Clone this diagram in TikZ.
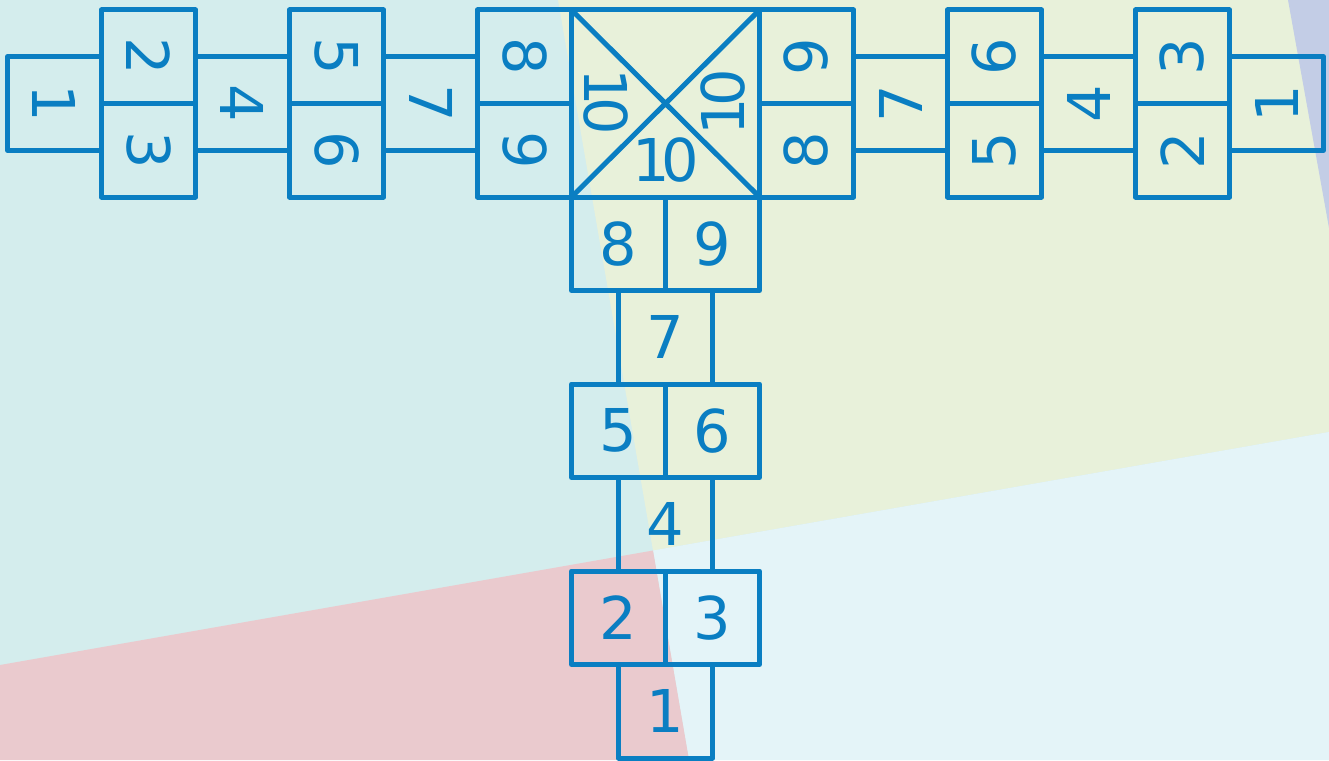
\documentclass[tikz,border=0pt]{standalone}
\usepackage{fontspec}
\setmainfont{DejaVu Sans}
\definecolor{hop}{RGB}{10,126,194}
\definecolor{bgteal}{RGB}{212,237,237}
\definecolor{bggreen}{RGB}{232,241,218}
\definecolor{bgpink}{RGB}{234,202,206}
\definecolor{bgblue}{RGB}{228,244,248}
\definecolor{bglav}{RGB}{195,205,230}
\begin{document}
\begin{tikzpicture}[x=1pt,y=-1pt,
  cell/.style={draw=hop,line width=5pt,line join=round},
  num/.style={font=\fontsize{59}{59}\selectfont,text=hop,inner sep=0pt}]
\useasboundingbox (0,0) rectangle (1329,760);
% background
\fill[bgteal] (0,0) rectangle (1329,760);
\fill[bggreen] (558,0) -- (1329,0) -- (1329,432) -- (653,550.5) -- cycle;
\fill[bgblue] (653,550.5) -- (1329,432) -- (1329,760) -- (689,760) -- cycle;
\fill[bgpink] (0,665) -- (653,550.5) -- (689,760) -- (0,760) -- cycle;
\fill[bglav] (1288,0) -- (1329,0) -- (1329,228) -- cycle;
% vertical arm
\draw[cell] (571.5,10) rectangle (759.5,197);
\draw[cell] (571.5,10) -- (759.5,197) (759.5,10) -- (571.5,197);
\draw[cell] (571.5,197) rectangle (665.5,290.5) (665.5,197) rectangle (759.5,290.5);
\draw[cell] (618.5,290.5) rectangle (712.5,384);
\draw[cell] (571.5,384) rectangle (665.5,477.5) (665.5,384) rectangle (759.5,477.5);
\draw[cell] (618.5,477.5) rectangle (712.5,571);
\draw[cell] (571.5,571) rectangle (665.5,664.5) (665.5,571) rectangle (759.5,664.5);
\draw[cell] (618.5,664.5) rectangle (712.5,758);
% left arm
\foreach \x in {477.5,289.5,101.5}{
  \draw[cell] (\x,10) rectangle (\x+94,103.5) (\x,103.5) rectangle (\x+94,197);}
\foreach \x in {383.5,195.5,7.5}{
  \draw[cell] (\x,56.75) rectangle (\x+94,150.25);}
% right arm
\foreach \x in {759.5,947.5,1135.5}{
  \draw[cell] (\x,10) rectangle (\x+94,103.5) (\x,103.5) rectangle (\x+94,197);}
\foreach \x in {853.5,1041.5,1229.5}{
  \draw[cell] (\x,56.75) rectangle (\x+94,150.25);}
% numbers, vertical arm
\node[num] (v8) at (618.5,243.75) {8};
\node[num] (v9) at (712.5,243.75) {9};
\node[num] (v7) at (665.5,337.25) {7};
\node[num] (v5) at (618.5,430.75) {5};
\node[num] (v6) at (712.5,430.75) {6};
\node[num] (v4) at (665.5,524.25) {4};
\node[num] (v2) at (618.5,617.75) {2};
\node[num] (v3) at (712.5,617.75) {3};
\node[num] (v1) at (665.5,711.25) {1};
% center tens
\node[num,rotate=-90] (tl) at (606,102) {1\kern-9pt0};
\node[num,rotate=90] (tr) at (723,102) {1\kern-9pt0};
\node[num] (tb) at (665.5,160) {1\kern-9pt0};
% left arm numbers
\node[num,rotate=-90] (l8) at (524.5,56.75) {8};
\node[num,rotate=-90] (l9) at (524.5,150.25) {9};
\node[num,rotate=-90] (l7) at (430.5,103.5) {7};
\node[num,rotate=-90] (l5) at (336.5,56.75) {5};
\node[num,rotate=-90] (l6) at (336.5,150.25) {6};
\node[num,rotate=-90] (l4) at (242.5,103.5) {4};
\node[num,rotate=-90] (l2) at (148.5,56.75) {2};
\node[num,rotate=-90] (l3) at (148.5,150.25) {3};
\node[num,rotate=-90] (l1) at (54.5,103.5) {1};
% right arm numbers
\node[num,rotate=90] (r9) at (806.5,56.75) {9};
\node[num,rotate=90] (r8) at (806.5,150.25) {8};
\node[num,rotate=90] (r7) at (900.5,103.5) {7};
\node[num,rotate=90] (r6) at (994.5,56.75) {6};
\node[num,rotate=90] (r5) at (994.5,150.25) {5};
\node[num,rotate=90] (r4) at (1088.5,103.5) {4};
\node[num,rotate=90] (r3) at (1182.5,56.75) {3};
\node[num,rotate=90] (r2) at (1182.5,150.25) {2};
\node[num,rotate=90] (r1) at (1276.5,103.5) {1};
\end{tikzpicture}
\end{document}
